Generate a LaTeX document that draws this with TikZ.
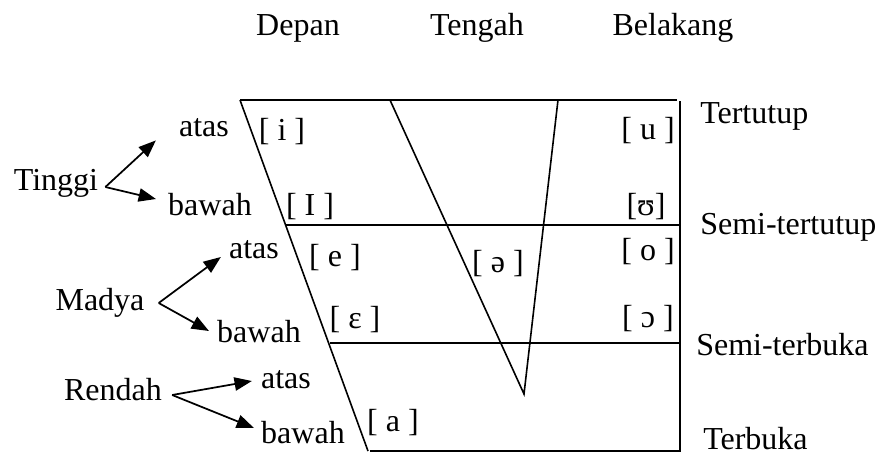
\documentclass[tikz,border=0pt]{standalone}
\usepackage{fontspec}
\setmainfont{Liberation Serif}
\usetikzlibrary{arrows.meta,calc}
\tikzset{
  lbl/.style={inner sep=0pt},
  arr/.style={->,line width=1.3pt},
  frame/.style={line width=1.2pt}
}
\begin{document}
\begin{tikzpicture}[x=0.75pt,y=-0.75pt,>={Triangle[length=13pt,width=10pt]},font=\fontsize{24}{28}\selectfont]
\useasboundingbox (0,0) rectangle (879,454);
% kolom atas
\node[lbl] (depan) at (298,28){Depan};
\node[lbl] (tengah) at (477,28){Tengah};
\node[lbl] (belakang) at (673,28){Belakang};
% bagan vokal
\draw[frame] (240,100)--(677,100);
\draw[frame] (680,101)--(680,451)--(370,451);
\draw[frame] (240,100)--(368,451);
\draw[frame] (285,225)--(680,225);
\draw[frame] (330,343)--(680,343);
\draw[frame] (390,100)--(524,394)--(558,100);
% vokal
\foreach \n/\x/\y/\v in {i/282/132/{[ i ]},I/310/207/{[ I ]},e/335/258/{[ e ]},E/355/320/{[ ɛ ]},a/393/423/{[ a ]},
  schwa/498/264/{[ ə ]},u/648/131/{[ u ]},U/646/207/{[ʊ]},o/648/252/{[ o ]},O/648/319/{[ ɔ ]}}{
  \node[lbl] (v\n) at (\x,\y){\v};
}
% kanan
\node[lbl,anchor=west] (tutup) at (700,116){Tertutup};
\node[lbl,anchor=west] (stutup) at (700,227){Semi-tertutup};
\node[lbl,anchor=west] (sbuka) at (696,345){Semi-terbuka};
\node[lbl,anchor=west] (buka) at (703,439){Terbuka};
% kiri
\node[lbl] (tinggi) at (56,183){Tinggi};
\node[lbl] (atasT) at (204,128){atas};
\node[lbl] (bawahT) at (210,205){bawah};
\node[lbl] (madya) at (100,303){Madya};
\node[lbl] (atasM) at (254,250){atas};
\node[lbl] (bawahM) at (259,332){bawah};
\node[lbl] (rendah) at (113,390){Rendah};
\node[lbl] (atasR) at (286,380){atas};
\node[lbl] (bawahR) at (303,433){bawah};
\draw[arr] ($(tinggi.east)+(7,4)$)--($(atasT.south west)+(-23,3)$);
\draw[arr] ($(tinggi.east)+(7,4)$)--($(bawahT.west)+(-12,-6)$);
\draw[arr] ($(madya.east)+(14,0)$)--($(atasM.west)+(-8,7)$);
\draw[arr] ($(madya.east)+(14,0)$)--($(bawahM.west)+(-8,-1)$);
\draw[arr] ($(rendah.east)+(10,5)$)--($(atasR.west)+(-9,1)$);
\draw[arr] ($(rendah.east)+(10,5)$)--($(bawahR.west)+(-7,-5)$);
\end{tikzpicture}
\end{document}
